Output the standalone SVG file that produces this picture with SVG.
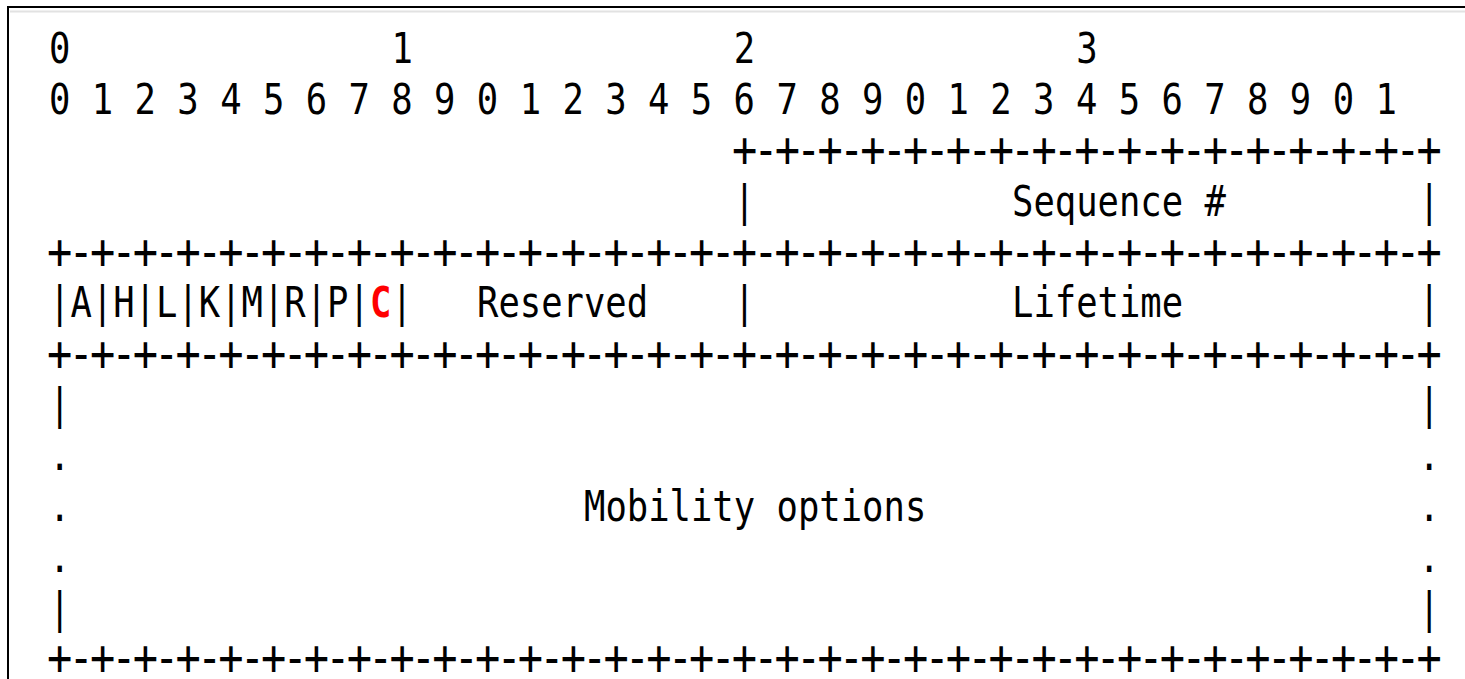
<svg xmlns="http://www.w3.org/2000/svg" width="1465" height="679" viewBox="0 0 1465 679">
<style>
  .t { font-family: "DejaVu Sans Mono", "Liberation Mono", monospace; font-size: 35.55px; fill: #000; }
  .b { font-size: 42px; letter-spacing: -3.88px; }
  .red { fill: #ff0000; font-weight: bold; }
</style>
<rect x="0" y="0" width="1465" height="679" fill="#ffffff"/>
<g id="frame">
  <line x1="10" y1="11.5" x2="1465" y2="11.5" stroke="#e2e2e2" stroke-width="2"/>
  <line x1="7" y1="7" x2="1465" y2="7" stroke="#000" stroke-width="2"/>
  <line x1="8" y1="6" x2="8" y2="679" stroke="#000" stroke-width="2"/>
</g>
<g transform="scale(1,1.2)" class="t">
  <g id="bit-header">
    <text x="49" y="52.5">0</text>
    <text x="391.4" y="52.5">1</text>
    <text x="733.8" y="52.5">2</text>
    <text x="1076.2" y="52.5">3</text>
    <text x="49" y="94.92">0 1 2 3 4 5 6 7 8 9 0 1 2 3 4 5 6 7 8 9 0 1 2 3 4 5 6 7 8 9 0 1</text>
  </g>
  <g id="borders" class="b">
    <text x="731.9" y="139.2">+-+-+-+-+-+-+-+-+-+-+-+-+-+-+-+-+</text>
    <text x="47.1" y="224">+-+-+-+-+-+-+-+-+-+-+-+-+-+-+-+-+-+-+-+-+-+-+-+-+-+-+-+-+-+-+-+-+</text>
    <text x="47.1" y="308.8">+-+-+-+-+-+-+-+-+-+-+-+-+-+-+-+-+-+-+-+-+-+-+-+-+-+-+-+-+-+-+-+-+</text>
    <text x="47.1" y="562.6">+-+-+-+-+-+-+-+-+-+-+-+-+-+-+-+-+-+-+-+-+-+-+-+-+-+-+-+-+-+-+-+-+</text>
  </g>
  <g id="sequence">
    <text x="733.8" y="179.75">|</text>
    <text x="1012" y="179.75">Sequence #</text>
    <text x="1418.6" y="179.75">|</text>
  </g>
  <g id="flags">
    <text x="49" y="264.58">|A|H|L|K|M|R|P|<tspan class="red">C</tspan>|</text>
  </g>
  <g id="reserved">
    <text x="477" y="264.58">Reserved</text>
    <text x="733.8" y="264.58">|</text>
  </g>
  <g id="lifetime">
    <text x="1012" y="264.58">Lifetime</text>
    <text x="1418.6" y="264.58">|</text>
  </g>
  <g id="mobility-options">
    <text x="49" y="349.42">|</text>
    <text x="1418.6" y="349.42">|</text>
    <text x="49" y="391.83">.</text>
    <text x="1418.6" y="391.83">.</text>
    <text x="49" y="434.25">.</text>
    <text x="584" y="434.25">Mobility options</text>
    <text x="1418.6" y="434.25">.</text>
    <text x="49" y="476.67">.</text>
    <text x="1418.6" y="476.67">.</text>
    <text x="49" y="519.08">|</text>
    <text x="1418.6" y="519.08">|</text>
  </g>
</g>
</svg>
